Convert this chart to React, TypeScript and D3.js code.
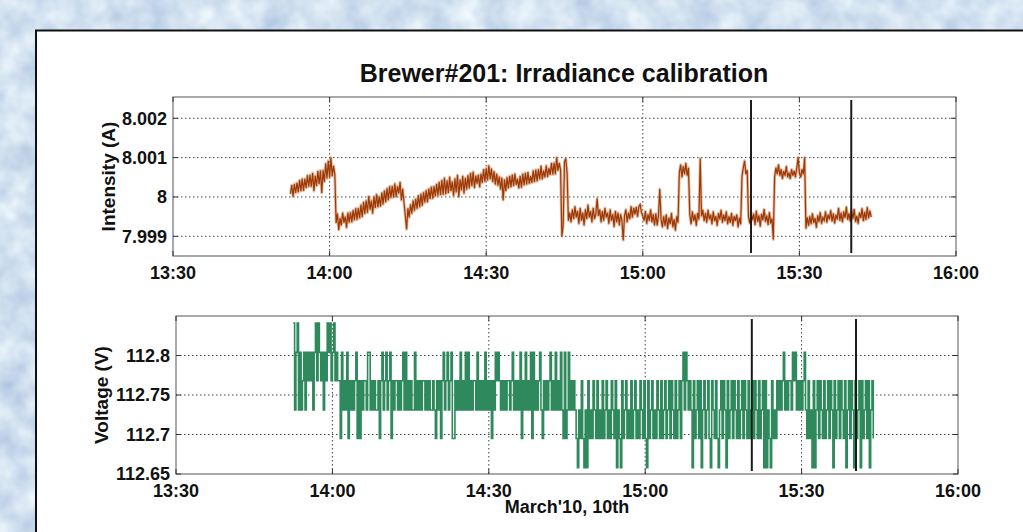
import React from "react";
import * as d3 from "d3";

// Brewer#201 irradiance calibration, 10 March 2010

const W = 1023;
const H = 532;
const FONT = "'Liberation Sans', Arial, Helvetica, sans-serif";

const title = "Brewer#201: Irradiance calibration";
const xLabel = "March'10, 10th";
const intensityLabel = "Intensity (A)";
const voltageLabel = "Voltage (V)";

const day = "2010-03-10 ";
const axisStart = "13:30:00";
const axisEnd = "16:00:00";
const firstSample = "13:52:30";
const sampleStepSeconds = 15;

const intensityTicks = [7.999, 8, 8.001, 8.002];
const voltageTicks = [112.65, 112.7, 112.75, 112.8];

// lamp current, one reading every 15 s
const intensity = [
  8.00008, 8.0003, 8.00001, 8.00033, 8.0001, 8.00036, 8.00012, 8.00043, 8.00015, 8.00046,
  8.00016, 8.00046, 8.00023, 8.00055, 8.00026, 8.00056, 8.00026, 8.00061, 8.00015, 8.00054,
  8.00028, 8.00066, 8.00033, 8.00067, 8.0001, 8.00068, 8.00038, 8.00085, 8.00047, 8.00092,
  8.0005, 8.001, 8.00053, 8.00079, 8.00058,
  7.99934, 7.99958, 7.99916, 7.99946, 7.99928, 7.9996, 7.99935, 7.9995, 7.99922, 7.9996,
  7.99935, 7.99961, 7.99936, 7.99966, 7.99941, 7.99971, 7.99942, 7.99972, 7.99946, 7.9998,
  7.99949, 7.99987, 7.99957, 7.99991, 7.9996, 8.00002, 7.99968, 7.99991, 7.99958, 8.00001,
  7.99972, 8.00007, 7.99974, 8.00001, 7.99976, 8.00011, 7.99981, 8.00016, 7.99987, 8.00022,
  7.99992, 8.00027, 7.99998, 8.00028, 7.99999, 8.00034, 8, 8.00027, 8.00009, 8.00038,
  7.99992, 8.00021, 7.99986,
  7.99953, 7.99918, 7.99971, 7.99948, 7.99981, 7.99958, 7.99991, 7.99965, 7.99995, 7.9997,
  8.00004, 7.99974, 8.00008, 7.99978, 8.00012, 7.99986, 8.00017, 7.99987, 8.00021, 7.99995,
  8.00026, 7.99996, 8.00027, 8.00002, 8.00033, 8.00003, 8.00038, 8.00005, 8.00043, 8.00006,
  8.00049, 8.00007, 8.00042, 8.0001, 8.00051, 8.00015, 8.00039, 8.00003, 8.00047, 8.00012,
  8.00056, 8, 8.00044, 8.00017, 8.00053, 8.00009, 8.00048, 8.00019, 8.00055, 8.00022,
  8.00061, 8.00028, 8.00064, 8.00023, 8.00054,
  8.00034, 8.00056, 8.00025, 8.00059, 8.00036, 8.0007, 8.00039, 8.00073, 8.00042, 8.0008,
  8.00045, 8.00072, 8.00038, 8.00065, 8.00032, 8.00059, 8.00029, 8.00052, 8.00019, 8.00049,
  7.99992, 8.00044, 8.00015, 8.0005, 8.00022, 8.00053, 8.00025, 8.00056, 8.00028, 8.00059,
  8.00031, 8.00046, 8.00022, 8.00053, 8.00024, 8.00059, 8.0003, 8.00061, 8.00032, 8.00063,
  8.00034, 8.00053, 8.00036, 8.00067, 8.00038, 8.00069, 8.0004, 8.0007, 8.00045, 8.00079,
  8.00045, 8.00067, 8.0005, 8.0008, 8.00051, 8.00073, 8.00056, 8.00086, 8.00057, 8.00087,
  8.00058, 8.001, 8.00067, 8.00086, 8.00069,
  7.999, 7.9993, 8.0009, 8.00098, 8.0006, 7.9994,
  7.9996, 7.99936, 7.99968, 7.99944, 7.99976, 7.99948, 7.99964, 7.99932, 7.99972, 7.9994,
  7.9996, 7.99928, 7.99968, 7.99944, 7.9998, 7.99948, 7.99964, 7.99936, 7.99972, 7.99944,
  7.99956, 7.99996, 7.99952, 7.99968, 7.99936, 7.99964, 7.9994, 7.99972, 7.99948, 7.9996,
  7.99932, 7.99968, 7.9994, 7.99956, 7.99924, 7.99964, 7.99936, 7.9996, 7.99928, 7.99956,
  7.9994, 7.9989, 7.99952, 7.99968, 7.99936, 7.9996, 7.99944, 7.99976, 7.99948, 7.99972,
  7.99956, 7.99974, 7.9995, 7.99976, 7.99981, 7.9996, 7.99952, 7.9994, 7.99964, 7.99932,
  7.99956, 7.9994, 7.99968, 7.99936, 7.99956, 7.99928, 7.99958, 7.99928, 7.99952, 8.0002,
  7.99943, 7.99923, 7.99951, 7.99927, 7.99955, 7.99919, 7.99947, 7.99931, 7.99959, 7.99923,
  7.99943, 7.99915, 7.99951, 7.99935,
  8.00062, 8.00082, 8.0005, 8.00078, 8.00058, 8.00086, 8.00054, 8.00074,
  7.99955, 7.99931, 7.99963, 7.99939, 7.99955, 7.99927, 7.99959, 7.99943, 8.00098, 7.99951,
  7.99967, 7.99939, 7.99959, 7.99935, 7.99967, 7.99943, 7.99955, 7.99931, 7.99963, 7.99939,
  7.99951, 7.99927, 7.99959, 7.99943, 7.99967, 7.99935, 7.99955, 7.99939, 7.99963, 7.99931,
  7.99951, 7.99935, 7.99959, 7.99927, 7.99951, 7.99939, 7.99955, 7.99923, 7.99947, 7.99931,
  8.00052, 8.00074, 8.00092, 8.00058, 8.00068,
  7.99949, 7.99933, 7.99961, 7.99941, 7.99957, 7.99929, 7.99965, 7.99937, 7.99953, 7.99925,
  7.99957, 7.99941, 7.99969, 7.99937, 7.99953, 7.99929, 7.99961, 7.99933, 7.99945, 7.99892,
  8.0005, 8.00074, 8.00058, 8.00082, 8.00054, 8.0007, 8.00046, 8.00066, 8.00054, 8.00078,
  8.0005, 8.00062, 8.00046, 8.0007, 8.00054, 8.00066, 8.0005, 8.00074, 8.001, 8.00062,
  8.0005, 8.0007, 8.00058, 8.001,
  7.9992, 7.99948, 7.99927, 7.99951, 7.99931, 7.99958, 7.99934, 7.99946, 7.99922, 7.99953,
  7.99937, 7.99961, 7.99932, 7.99948, 7.9994, 7.99963, 7.99935, 7.99955, 7.99943, 7.99966,
  7.99938, 7.99958, 7.99933, 7.99953, 7.99945, 7.99972, 7.9994, 7.9996, 7.99936, 7.99963,
  7.99947, 7.99975, 7.99942, 7.99958, 7.99938, 7.99965, 7.99945, 7.99969, 7.99937, 7.99952,
  7.99932, 7.9996, 7.99947, 7.99971, 7.99939, 7.99962, 7.99942, 7.99974, 7.99946, 7.99965,
  7.99949,
];

// supply voltage is quantised: readings are codes into these levels
const voltageLevels = [112.658, 112.695, 112.731, 112.768, 112.804, 112.841];
const voltageCodes = [
  5, 2, 4, 5, 2, 4, 2, 3, 4, 2, 4, 3, 4, 3, 4, 2, 4, 5, 3, 5, 4, 3, 4, 2, 4, 3, 5, 4, 5, 3,
  4, 5, 3, 4, 3,
  3, 1, 4, 2, 3, 2, 4, 1, 3, 2, 3, 2, 3, 4, 1, 3, 1, 3, 2, 3, 3, 2, 4, 4, 2, 3, 2, 3, 2, 2,
  3, 1, 3, 4, 2, 3, 4, 2, 3, 4, 1, 3, 2, 3, 3, 2, 3, 2, 3, 4, 2, 4, 2, 3, 2, 3, 2, 2, 4, 2,
  3, 2, 3, 2, 3, 3, 2, 3, 2, 3, 2, 2, 3, 2, 1, 3, 2, 3, 1, 3, 4, 2, 3, 4, 2, 3, 4, 1, 1, 3,
  2, 3, 2, 4, 2, 3, 2, 4, 2, 4, 2, 3, 2, 3, 3, 2, 4, 2, 3, 2, 3, 2, 4, 2, 3, 2, 3, 1, 3, 2,
  4, 3, 4, 3, 2, 3, 2, 3, 2, 3, 3, 2, 3, 4, 2, 3, 2, 3, 2, 4, 1, 3, 2, 4, 2, 3, 2, 4, 1, 4,
  2, 3, 2, 3, 4, 2, 1, 3, 2, 3, 2, 3, 4, 2, 3, 2, 4, 2, 3, 2, 4, 2, 1, 4, 1, 2, 4, 2, 3, 2,
  3,
  2, 1, 0, 2, 1, 3, 1, 0, 2, 0, 3, 1, 2, 1, 3, 2, 1, 3, 1, 2, 1, 3, 1, 2, 3, 1, 2, 1, 3, 2,
  1, 3, 0, 2, 1, 0, 3, 1, 2, 3, 1, 2, 1, 3, 1, 2, 3, 1, 2, 1, 3, 2, 1, 3, 1, 0, 3, 1, 2, 3,
  1, 2, 1, 3, 2, 1, 3, 1, 2, 3, 1, 2, 3, 1, 3, 2, 1, 3, 1, 2, 3, 1,
  3, 4, 2, 4, 3, 2, 3, 2,
  0, 3, 1, 2, 3, 1, 3, 0, 2, 3, 1, 2, 3, 1, 0, 3, 2, 1, 3, 1, 0, 2, 3, 1, 3, 2, 0, 3, 1, 2,
  3, 1, 3, 2, 1, 3, 1, 2, 3, 1, 3, 2, 1, 3, 1, 2, 3, 1, 3, 2, 1, 3, 1, 2, 3, 0, 3, 0, 2, 1,
  0, 3, 1, 2, 1,
  3, 2, 3, 2, 3, 4, 2, 3, 2, 3, 3, 2, 4, 3, 4, 2, 3, 2, 3, 2, 3, 4,
  2, 1, 3, 1, 2, 0, 3, 0, 2, 3, 1, 3, 2, 1, 3, 1, 2, 3, 1, 3, 2, 0, 3, 1, 2, 3, 1, 3, 2, 1,
  3, 0, 2, 3, 1, 3, 2, 0, 3, 1, 2, 3, 0, 3, 1, 2, 3, 1, 3, 0, 2, 3, 1,
];

// black reference marks drawn across each panel
const intensityMarkers = ["15:20:44", "15:39:56"];
const voltageMarkers = ["15:20:27", "15:40:26"];

const parseTime = d3.timeParse("%Y-%m-%d %H:%M:%S");
const at = (hms: string) => parseTime(day + hms) as Date;
const t0 = at(firstSample).getTime();
const sampleTime = (i: number) => new Date(t0 + i * sampleStepSeconds * 1000);
const fmt = d3.timeFormat("%H:%M");

type PanelProps = {
  left: number;
  right: number;
  top: number;
  bottom: number;
  yDomain: [number, number];
  yTicks: number[];
  values: number[];
  color: string;
  halo?: string;
  lineWidth: number;
  step?: boolean;
  markers: string[];
  yLabel: string;
  yLabelX: number;
};

function Panel(p: PanelProps) {
  const x = d3.scaleTime().domain([at(axisStart), at(axisEnd)]).range([p.left, p.right]);
  const y = d3.scaleLinear().domain(p.yDomain).range([p.bottom, p.top]);
  const line = d3
    .line<number>()
    .x((_, i) => x(sampleTime(i)))
    .y((d) => y(d))
    .curve(p.step ? d3.curveStepAfter : d3.curveLinear);
  const xTicks = x.ticks(d3.timeMinute.every(30) as d3.TimeInterval);
  const tick = 5;
  const gridColor = "#444";
  const path = line(p.values) || "";
  return (
    <g>
      <clipPath id={"clip" + p.top}>
        <rect x={p.left} y={p.top} width={p.right - p.left} height={p.bottom - p.top} />
      </clipPath>
      {xTicks.slice(1, -1).map((t, i) => (
        <line key={"gx" + i} x1={x(t)} x2={x(t)} y1={p.top} y2={p.bottom}
          stroke={gridColor} strokeWidth={1} strokeDasharray="1.5,2.5" />
      ))}
      {p.yTicks.filter((v) => y(v) < p.bottom - 1).map((v, i) => (
        <line key={"gy" + i} x1={p.left} x2={p.right} y1={y(v)} y2={y(v)}
          stroke={gridColor} strokeWidth={1} strokeDasharray="1.5,2.5" />
      ))}
      <g clipPath={`url(#clip${p.top})`}>
        {p.halo && (
          <path d={path} fill="none" stroke={p.halo} strokeWidth={3} strokeOpacity={0.55}
            strokeLinejoin="round" />
        )}
        <path d={path} fill="none" stroke={p.color} strokeWidth={p.lineWidth} />
      </g>
      {p.markers.map((m, i) => (
        <line key={"m" + i} x1={x(at(m))} x2={x(at(m))} y1={p.top + 3} y2={p.bottom - 3}
          stroke="#1a1a1a" strokeWidth={2} />
      ))}
      <rect x={p.left} y={p.top} width={p.right - p.left} height={p.bottom - p.top}
        fill="none" stroke="#555" strokeWidth={1} />
      {p.yTicks.map((v, i) => (
        <g key={"ty" + i}>
          <line x1={p.left} x2={p.left + tick} y1={y(v)} y2={y(v)} stroke="#333" />
          <line x1={p.right} x2={p.right - tick} y1={y(v)} y2={y(v)} stroke="#333" />
          <text x={p.left - 6} y={y(v)} dy="0.36em" textAnchor="end" fontSize={18}
            fontWeight="bold" fontFamily={FONT} fill="#111">{String(v)}</text>
        </g>
      ))}
      {xTicks.map((t, i) => (
        <g key={"tx" + i}>
          <line x1={x(t)} x2={x(t)} y1={p.bottom} y2={p.bottom - tick} stroke="#333" />
          <line x1={x(t)} x2={x(t)} y1={p.top} y2={p.top + tick} stroke="#333" />
          <text x={x(t)} y={p.bottom + 23} textAnchor="middle" fontSize={18}
            fontWeight="bold" fontFamily={FONT} fill="#111">{fmt(t)}</text>
        </g>
      ))}
      <text transform={`translate(${p.yLabelX},${(p.top + p.bottom) / 2}) rotate(-90)`}
        textAnchor="middle" dy="0.36em" fontSize={19} fontWeight="bold" fontFamily={FONT}
        fill="#111">{p.yLabel}</text>
    </g>
  );
}

export default function App() {
  const voltage = voltageCodes.map((c) => voltageLevels[c]);
  return (
    <svg width={W} height={H} style={{ position: "absolute", left: 0, top: 0 }}>
      <defs>
        <filter id="paper" x="0" y="0" width="100%" height="100%" colorInterpolationFilters="sRGB">
          <feTurbulence type="fractalNoise" baseFrequency="0.035" numOctaves={3} seed={7} />
          <feColorMatrix type="matrix"
            values="0.32 0 0 0 0.66  0.26 0 0 0 0.75  0.14 0 0 0 0.87  0 0 0 0 1" />
        </filter>
      </defs>
      <rect width={W} height={H} fill="#d2e2f3" filter="url(#paper)" />
      <rect x={36} y={30.5} width={W} height={H} fill="#fff" stroke="#111" strokeWidth={2} />
      <text x={564} y={82} textAnchor="middle" fontSize={25} fontWeight="bold"
        fontFamily={FONT} fill="#111">{title}</text>
      <Panel left={173} right={956} top={97} bottom={256} yDomain={[7.9985, 8.00254]}
        yTicks={intensityTicks} values={intensity} color="#9e3804" halo="#c98a5e"
        lineWidth={1.2} markers={intensityMarkers} yLabel={intensityLabel} yLabelX={108} />
      <Panel left={176} right={958} top={316} bottom={474} yDomain={[112.65, 112.85]}
        yTicks={voltageTicks} values={voltage} color="#2e8a5c" lineWidth={1.6} step
        markers={voltageMarkers} yLabel={voltageLabel} yLabelX={101} />
      <text x={567} y={513} textAnchor="middle" fontSize={18} fontWeight="bold"
        fontFamily={FONT} fill="#111">{xLabel}</text>
    </svg>
  );
}
